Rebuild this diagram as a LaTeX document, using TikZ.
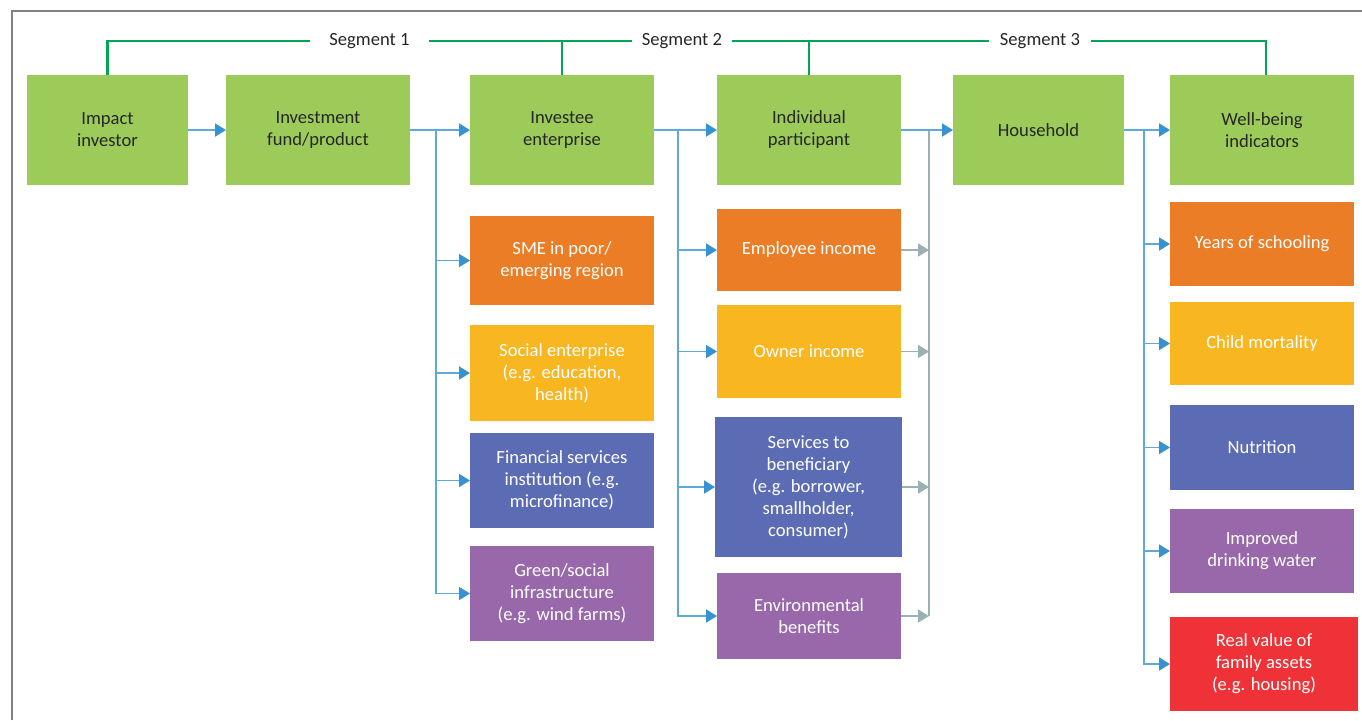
\documentclass[tikz,border=0pt]{standalone}
\usepackage{fontspec}
\setmainfont{Carlito}
\usetikzlibrary{arrows.meta}
\definecolor{boxgreen}{RGB}{157,203,89}
\definecolor{boxorange}{RGB}{235,125,38}
\definecolor{boxyellow}{RGB}{248,182,33}
\definecolor{boxblue}{RGB}{91,108,181}
\definecolor{boxpurple}{RGB}{152,104,171}
\definecolor{boxred}{RGB}{239,50,55}
\definecolor{darktext}{RGB}{38,38,38}
\definecolor{seggreen}{RGB}{0,166,81}
\definecolor{lineblue}{RGB}{95,168,220}
\definecolor{headblue}{RGB}{54,146,209}
\definecolor{linegray}{RGB}{155,176,176}
\definecolor{framegray}{RGB}{128,128,128}
\begin{document}
\begin{tikzpicture}[x=0.5pt, y=-0.5pt, font=\fontsize{9.3}{11}\selectfont,
    box/.style={minimum width=92pt, minimum height=55pt, inner sep=0pt, outer sep=0pt, align=center, text=white},
    stage/.style={box, fill=boxgreen, text=darktext},
    segtext/.style={inner sep=0pt, minimum width=50pt, text=darktext},
    seg/.style={draw=seggreen, line width=1.2pt},
    flow/.style={draw=lineblue, line width=0.9pt, -{Triangle[length=5.5pt, width=6.5pt, color=headblue]}},
    feed/.style={draw=linegray, line width=0.9pt, -{Triangle[length=5.5pt, width=6.5pt, color=linegray]}},
    grayline/.style={draw=linegray, line width=1.2pt}]
    \useasboundingbox (0,0) rectangle (1362,720);
    \draw[framegray, line width=1pt] (12,720) -- (12,11) -- (1362,11);

    \node[stage, minimum width=80.5pt] (impact) at (107.5,130) {Impact\\investor};
    \node[stage] (fund) at (318,130) {Investment\\fund/product};
    \node[stage] (investee) at (562,130) {Investee\\enterprise};
    \node[stage] (individual) at (809,130) {Individual\\participant};
    \node[stage, minimum width=85.5pt] (household) at (1038.5,130) {Household};
    \node[stage] (wellbeing) at (1262,130) {Well-being\\indicators};

    \node[segtext, minimum width=59.5pt] (seg1) at (369.5,41) {Segment 1};
    \node[segtext] (seg2) at (682,41) {Segment 2};
    \node[segtext, minimum width=51pt] (seg3) at (1040,41) {Segment 3};

    \node[box, fill=boxorange, minimum height=44.5pt] (sme) at (562,260.5) {SME in poor/\\emerging region};
    \node[box, fill=boxyellow, minimum height=48pt] (social) at (562,373) {Social enterprise\\(e.g. education,\\health)};
    \node[box, fill=boxblue, minimum height=47.5pt] (finance) at (562,480.5) {Financial services\\institution (e.g.\\microfinance)};
    \node[box, fill=boxpurple, minimum height=47.5pt] (infra) at (562,593.5) {Green/social\\infrastructure\\(e.g. wind farms)};

    \node[box, fill=boxorange, minimum height=41pt] (employee) at (809,250) {Employee income};
    \node[box, fill=boxyellow, minimum height=46.5pt] (owner) at (809,351.5) {Owner income};
    \node[box, fill=boxblue, minimum width=93.5pt, minimum height=70pt] (services) at (808.5,487) {Services to\\beneficiary\\(e.g. borrower,\\smallholder,\\consumer)};
    \node[box, fill=boxpurple, minimum height=43pt] (envir) at (809,616) {Environmental\\benefits};

    \node[box, fill=boxorange, minimum height=42pt] (school) at (1262,244) {Years of schooling};
    \node[box, fill=boxyellow, minimum height=41.5pt] (mortality) at (1262,343.5) {Child mortality};
    \node[box, fill=boxblue, minimum height=42.5pt] (nutrition) at (1262,447.5) {Nutrition};
    \node[box, fill=boxpurple, minimum height=42pt] (water) at (1262,551) {Improved\\drinking water};
    \node[box, fill=boxred, minimum width=94pt, minimum height=47pt] (assets) at (1264,664) {Real value of\\family assets\\(e.g. housing)};

    \draw[seg] (impact.north) |- (seg1.west);
    \draw[seg] (seg1.east) -- (seg2.west);
    \draw[seg] (seg2.east) -- (seg3.west);
    \draw[seg] (seg3.east) -| ([xshift=2pt]wellbeing.north);
    \draw[seg] (investee.north) -- (investee.north |- seg2.center);
    \draw[seg] (individual.north) -- (individual.north |- seg2.center);

    \coordinate (fork1) at (436,130);
    \coordinate (fork2) at (678,130);
    \coordinate (fork3) at (1144,130);
    \coordinate (join) at (929,130);
    \coordinate (joinend) at (942,130);

    \draw[flow] (impact.east) -- (fund.east -| fund.west);
    \draw[flow] (fork1) |- (sme.west);
    \draw[flow] (fork1) |- (social.west);
    \draw[flow] (fork1) |- (finance.west);
    \draw[flow] (fork1) |- (infra.west);
    \draw[flow] (fund.east) -- (investee.west);

    \draw[flow] (fork2) |- (employee.west);
    \draw[flow] (fork2) |- (owner.west);
    \draw[flow] (fork2) |- (services.west);
    \draw[flow] (fork2) |- (envir.west);
    \draw[flow] (investee.east) -- (individual.west);

    \draw[feed] (employee.east) -- (employee.east -| join);
    \draw[feed] (owner.east) -- (owner.east -| join);
    \draw[feed] (services.east) -- (services.east -| join);
    \draw[feed] (envir.east) -- (envir.east -| join);
    \draw[grayline] (envir.east -| join) -- (join) -- (joinend);
    \draw[flow] (individual.east) -- (household.west);

    \draw[flow] (fork3) |- (school.west);
    \draw[flow] (fork3) |- (mortality.west);
    \draw[flow] (fork3) |- (nutrition.west);
    \draw[flow] (fork3) |- (water.west);
    \draw[flow] (fork3) |- (assets.west);
    \draw[flow] (household.east) -- (wellbeing.west);
\end{tikzpicture}
\end{document}
